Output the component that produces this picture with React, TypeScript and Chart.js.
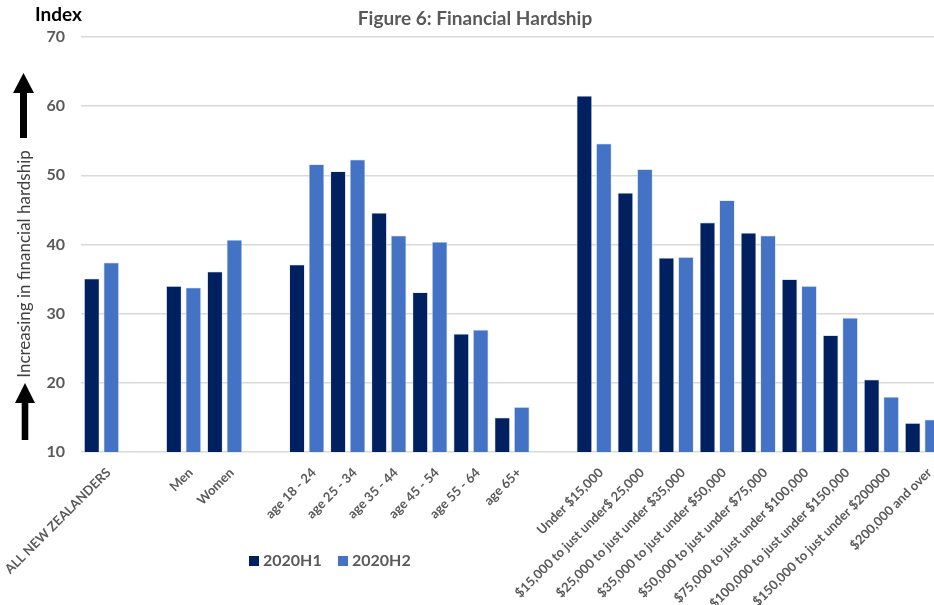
import React, { useEffect, useRef } from "react";
import { Chart, registerables } from "chart.js";

Chart.register(...registerables);

// Empty strings mark the spacer slots between groups
const categories = [
  "ALL NEW ZEALANDERS",
  "",
  "Men",
  "Women",
  "",
  "age 18 - 24",
  "age 25 - 34",
  "age 35 - 44",
  "age 45 - 54",
  "age 55 - 64",
  "age 65+",
  "",
  "Under $15,000",
  "$15,000 to just under$ 25,000",
  "$25,000 to just under $35,000",
  "$35,000 to just under $50,000",
  "$50,000 to just under $75,000",
  "$75,000 to just under $100,000",
  "$100,000 to just under $150,000",
  "$150,000 to just under $200000",
  "$200,000 and over",
];

const series2020H1 = [
  35.1, null, 34.0, 36.1, null, 37.1, 50.6, 44.6, 33.1, 27.1, 15.0, null,
  61.5, 47.5, 38.1, 43.2, 41.7, 35.0, 26.9, 20.5, 14.2,
];
const series2020H2 = [
  37.4, null, 33.8, 40.7, null, 51.6, 52.3, 41.3, 40.4, 27.7, 16.5, null,
  54.6, 50.9, 38.2, 46.4, 41.3, 34.0, 29.4, 18.0, 14.7,
];

const seriesNames = ["2020H1", "2020H2"];
const seriesColors = ["#002060", "#4472C4"];

const yMin = 10;
const yMax = 70;
const yStep = 10;

const chartTitle = "Figure 6: Financial Hardship";
const yUnitLabel = "Index";
const yAxisTitle = "Increasing in financial hardship";

const FONT = "Lato, 'Open Sans', sans-serif";
const GREY = "#595959";

const CANVAS_W = 950;
const CANVAS_H = 605;
const PLOT_LEFT = 81;
const PLOT_RIGHT = 943;
const PLOT_TOP = 37;
const PLOT_BOTTOM = 452;

function drawArrow(
  ctx: CanvasRenderingContext2D,
  cx: number,
  tipY: number,
  headBaseY: number,
  bottomY: number,
  headHalf: number,
  shaftHalf: number
) {
  ctx.beginPath();
  ctx.moveTo(cx, tipY);
  ctx.lineTo(cx + headHalf, headBaseY);
  ctx.lineTo(cx + shaftHalf, headBaseY);
  ctx.lineTo(cx + shaftHalf, bottomY);
  ctx.lineTo(cx - shaftHalf, bottomY);
  ctx.lineTo(cx - shaftHalf, headBaseY);
  ctx.lineTo(cx - headHalf, headBaseY);
  ctx.closePath();
  ctx.fill();
}

const decorations = {
  id: "decorations",
  afterDraw(chart: Chart) {
    const ctx = chart.ctx;
    ctx.save();

    // title
    ctx.fillStyle = GREY;
    ctx.font = `bold 19px ${FONT}`;
    ctx.textAlign = "center";
    ctx.textBaseline = "middle";
    ctx.fillText(chartTitle, 475, 19);

    // unit label above the y axis
    ctx.fillStyle = "#000000";
    ctx.font = `bold 19px ${FONT}`;
    ctx.textAlign = "left";
    ctx.fillText(yUnitLabel, 35, 15);

    // rotated axis title
    ctx.save();
    ctx.translate(25, 264);
    ctx.rotate(-Math.PI / 2);
    ctx.fillStyle = "#404040";
    ctx.font = `17px ${FONT}`;
    ctx.textAlign = "center";
    ctx.textBaseline = "middle";
    ctx.fillText(yAxisTitle, 0, 0);
    ctx.restore();

    // direction arrows
    ctx.fillStyle = "#000000";
    drawArrow(ctx, 23.5, 73, 93, 138, 10.5, 3.5);
    drawArrow(ctx, 25, 383, 403, 440, 10, 3.3);

    // legend
    ctx.font = `bold 16px ${FONT}`;
    ctx.textAlign = "left";
    ctx.textBaseline = "middle";
    const legendX = [249, 338];
    seriesNames.forEach((name, i) => {
      ctx.fillStyle = seriesColors[i];
      ctx.fillRect(legendX[i], 556, 10, 10);
      ctx.fillStyle = GREY;
      ctx.fillText(name, legendX[i] + 14, 561);
    });

    ctx.restore();
  },
};

export default function App() {
  const canvasRef = useRef<HTMLCanvasElement | null>(null);

  useEffect(() => {
    if (!canvasRef.current) return;
    const chart = new Chart(canvasRef.current, {
      type: "bar",
      data: {
        labels: categories,
        datasets: [
          {
            label: seriesNames[0],
            data: series2020H1,
            backgroundColor: seriesColors[0],
            borderColor: "rgba(210,225,245,0.9)",
            borderWidth: 0.8,
            categoryPercentage: 0.95,
            barPercentage: 0.8,
          },
          {
            label: seriesNames[1],
            data: series2020H2,
            backgroundColor: seriesColors[1],
            borderColor: "rgba(210,225,245,0.9)",
            borderWidth: 0.8,
            categoryPercentage: 0.95,
            barPercentage: 0.8,
          },
        ],
      },
      options: {
        responsive: false,
        animation: false,
        devicePixelRatio: 1,
        layout: {
          padding: { top: PLOT_TOP, left: 0, right: CANVAS_W - PLOT_RIGHT, bottom: 0 },
        },
        plugins: {
          legend: { display: false },
          title: { display: false },
          tooltip: { enabled: false },
        },
        scales: {
          x: {
            grid: { display: false, drawTicks: false },
            border: { display: false },
            ticks: {
              autoSkip: false,
              minRotation: 45,
              maxRotation: 45,
              padding: 13,
              labelOffset: 7,
              color: GREY,
              font: { family: FONT, size: 13, weight: "bold" },
            },
            afterFit(scale: any) {
              scale.height = CANVAS_H - PLOT_BOTTOM;
              scale.paddingLeft = 0;
              scale.paddingRight = 0;
            },
          },
          y: {
            min: yMin,
            max: yMax,
            grid: { color: "#d9d9d9", lineWidth: 1.5, drawTicks: false },
            border: { display: false },
            ticks: {
              stepSize: yStep,
              padding: 16,
              color: GREY,
              font: { family: FONT, size: 16, weight: "bold" },
            },
            afterFit(scale: any) {
              scale.width = PLOT_LEFT;
            },
          },
        },
      },
      plugins: [decorations],
    });
    return () => chart.destroy();
  }, []);

  return (
    <div
      style={{
        position: "fixed",
        left: 0,
        top: 0,
        width: 934,
        height: 605,
        overflow: "hidden",
        background: "#ffffff",
      }}
    >
      <canvas
        ref={canvasRef}
        width={CANVAS_W}
        height={CANVAS_H}
        style={{ display: "block", width: CANVAS_W, height: CANVAS_H }}
      />
    </div>
  );
}
